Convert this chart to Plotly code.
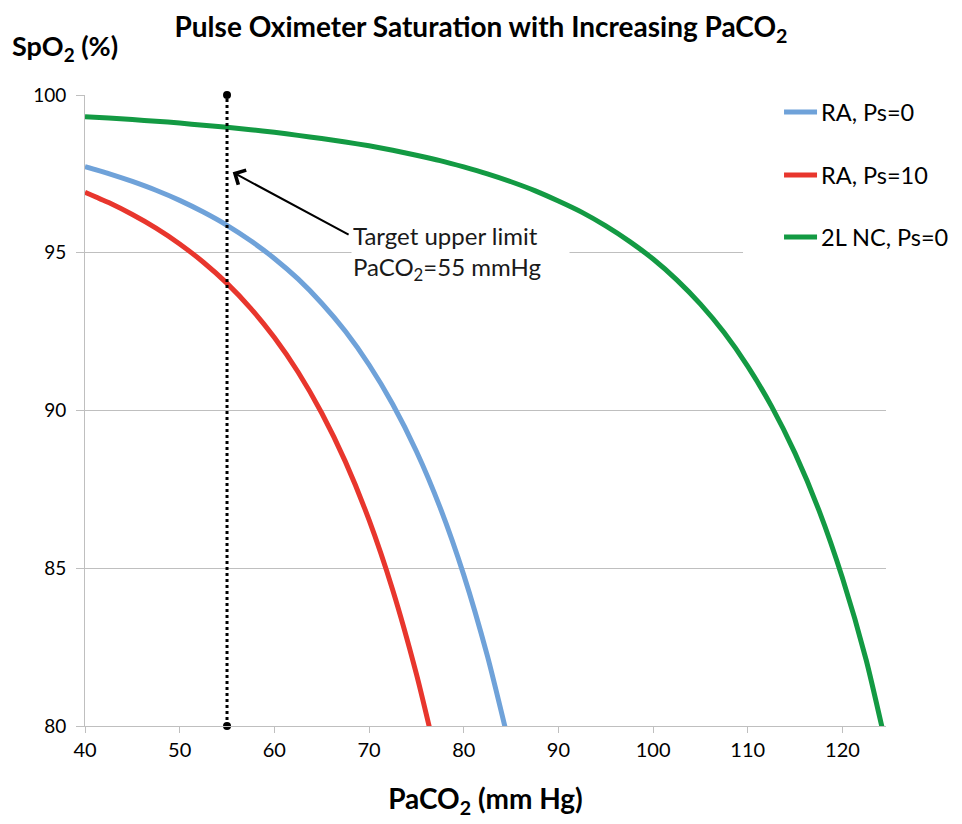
import plotly.graph_objects as go

# PaCO2 (mm Hg) and SpO2 (%)
paco2_ra0 = [40, 42.5, 45, 47.5, 50, 52.5, 55, 57.5, 60, 62.5, 65, 67.5, 70, 72.5, 75, 77.5, 80, 82.5, 84.4]
spo2_ra0 = [97.73, 97.51, 97.26, 96.98, 96.66, 96.29, 95.87, 95.38, 94.82, 94.17, 93.40, 92.51,
            91.45, 90.20, 88.71, 86.93, 84.79, 82.22, 79.92]

paco2_ra10 = [40, 42.5, 45, 47.5, 50, 52.5, 55, 57.5, 60, 62.5, 65, 67.5, 70, 72.5, 75, 76.5]
spo2_ra10 = [96.92, 96.59, 96.21, 95.78, 95.28, 94.70, 94.03, 93.24, 92.31, 91.22, 89.92, 88.38,
             86.53, 84.31, 81.65, 79.80]

paco2_nc2 = [40, 42.5, 45, 47.5, 50, 52.5, 55, 57.5, 60, 62.5, 65, 67.5, 70, 72.5, 75, 77.5, 80,
             82.5, 85, 87.5, 90, 92.5, 95, 97.5, 100, 102.5, 105, 107.5, 110, 112.5, 115, 117.5,
             120, 122.5, 124.3]
spo2_nc2 = [99.31, 99.27, 99.22, 99.17, 99.11, 99.04, 98.98, 98.90, 98.82, 98.72, 98.62, 98.51,
            98.39, 98.25, 98.09, 97.92, 97.72, 97.50, 97.25, 96.97, 96.64, 96.28, 95.85, 95.36,
            94.80, 94.14, 93.37, 92.47, 91.40, 90.14, 88.64, 86.85, 84.69, 82.10, 79.80]

target_x = [55, 55]
target_y = [80, 100]

series_names = ["RA, Ps=0", "RA, Ps=10", "2L NC, Ps=0"]
series_colors = ["#6FA2D9", "#E8362D", "#139A43"]

x_ticks = [40, 50, 60, 70, 80, 90, 100, 110, 120]
y_ticks = [80, 85, 90, 95, 100]

FONT = "Lato, Calibri, Carlito, sans-serif"

fig = go.Figure()
for i, (xs, ys) in enumerate([(paco2_ra0, spo2_ra0), (paco2_ra10, spo2_ra10), (paco2_nc2, spo2_nc2)]):
    fig.add_trace(go.Scatter(
        x=xs, y=ys, mode="lines", name=series_names[i], showlegend=False,
        line=dict(color=series_colors[i], width=5, shape="spline", smoothing=0.6),
    ))

fig.add_trace(go.Scatter(
    x=target_x, y=target_y, mode="lines+markers", showlegend=False,
    line=dict(color="black", width=3, dash="dot"),
    marker=dict(color="black", size=8), cliponaxis=False,
))

# white cover where the legend box hides the upper gridlines
fig.add_shape(type="rect", xref="paper", yref="y", x0=0.8215, x1=1.0, y0=94.0, y1=100.3,
              fillcolor="white", line=dict(width=0), layer="above")

# legend (swatches + labels) placed to the right of the plot
legend_y = [0.9731, 0.8732, 0.7750]
for i, name in enumerate(series_names):
    fig.add_shape(type="line", xref="paper", yref="paper", x0=0.8727, x1=0.9139,
                  y0=legend_y[i], y1=legend_y[i], line=dict(color=series_colors[i], width=5),
                  layer="above")
    fig.add_annotation(x=0.9164, y=legend_y[i], xref="paper", yref="paper",
                       xanchor="left", yanchor="middle", text=name, showarrow=False,
                       font=dict(family=FONT, size=23.5, color="black"))

fig.add_annotation(
    x=55.6, y=97.55, ax=68.0, ay=95.55, xref="x", yref="y", axref="x", ayref="y",
    text="", showarrow=True, arrowhead=4, arrowsize=1.6, arrowwidth=2, arrowcolor="black",
)
fig.add_annotation(
    x=68.1, y=95.0, xref="x", yref="y", xanchor="left", yanchor="middle",
    text="Target upper limit<br>PaCO<sub>2</sub>=55 mmHg", showarrow=False, align="left",
    font=dict(family=FONT, size=24, color="#1a1a1a"), bgcolor="white", width=215,
)
fig.add_annotation(
    x=-0.0936, y=1.076, xref="paper", yref="paper", xanchor="left", yanchor="middle",
    text="<b>SpO<sub>2</sub> (%)</b>", showarrow=False,
    font=dict(family=FONT, size=27, color="black"),
)

fig.update_layout(
    width=954, height=816,
    margin=dict(l=77, r=76, t=87, b=98),
    paper_bgcolor="white", plot_bgcolor="white",
    showlegend=False,
    title=dict(text="<b>Pulse Oximeter Saturation with Increasing PaCO<sub>2</sub></b>",
               x=(481 - 8) / 954, xanchor="center", y=1 - 19.5 / 816, yanchor="middle",
               font=dict(family=FONT, size=28, color="black")),
    xaxis=dict(range=[40, 124.6], tickvals=x_ticks, showgrid=False,
               showline=True, linecolor="#BFBFBF", linewidth=1,
               ticks="outside", ticklen=6, tickcolor="#BFBFBF",
               tickfont=dict(family=FONT, size=20, color="black"),
               title=dict(text="<b>PaCO<sub>2</sub> (mm Hg)</b>", standoff=29,
                          font=dict(family=FONT, size=28, color="black")),
               zeroline=False),
    yaxis=dict(range=[80, 100], tickvals=y_ticks, showgrid=True, gridcolor="#BFBFBF", gridwidth=1,
               showline=True, linecolor="#BFBFBF", linewidth=1,
               ticks="outside", ticklen=8, tickcolor="#BFBFBF", ticklabelstandoff=6,
               tickfont=dict(family=FONT, size=19, color="black"),
               zeroline=False),
)

fig.write_html("out.html")
